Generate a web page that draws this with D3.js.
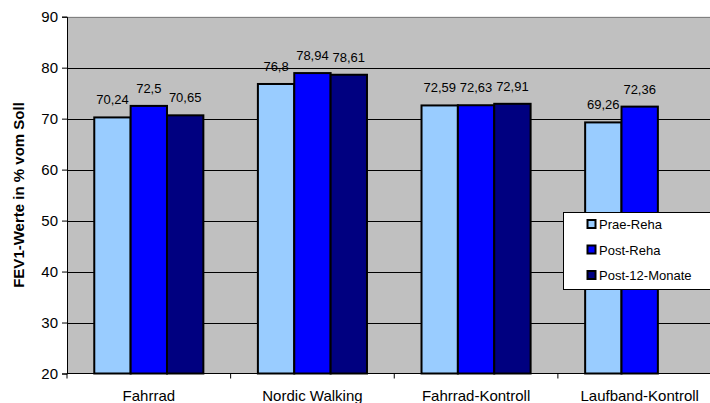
<!DOCTYPE html>
<html><head><meta charset="utf-8">
<script src="https://cdn.jsdelivr.net/npm/d3@7"></script>
<style>body{margin:0;background:#fff}svg{display:block;font-family:"Liberation Sans",Arial,sans-serif}</style>
</head><body><svg id="c" width="710" height="403"></svg>
<script>
const categories = ["Fahrrad","Nordic Walking","Fahrrad-Kontroll","Laufband-Kontroll"];
const seriesNames = ["Prae-Reha","Post-Reha","Post-12-Monate"];
const praeReha = [70.24, 76.8, 72.59, 69.26];
const postReha = [72.5, 78.94, 72.63, 72.36];
const post12 = [70.65, 78.61, 72.91, null];
const yTicks = [20,30,40,50,60,70,80,90];
const colors = ["#99CCFF","#0000FF","#000080"];
const seriesValues = [praeReha, postReha, post12];

const svg = d3.select("#c");
const x0 = 67, x1 = 721.5, yTop = 16.7, yBot = 373.5;
const x = d3.scaleBand().domain(categories).range([x0, x1]).paddingInner(0).paddingOuter(0);
const inner = d3.scaleBand().domain(seriesNames).range([0, x.bandwidth()]).paddingOuter(0.75).paddingInner(0);
const y = d3.scaleLinear().domain([20, 90]).range([yBot, yTop]);

svg.append("rect").attr("x", x0).attr("y", yTop).attr("width", x1 - x0).attr("height", yBot - yTop).attr("fill", "#C0C0C0");
svg.append("g").selectAll("line").data(yTicks.filter(d => d > 20)).join("line")
  .attr("x1", x0).attr("x2", x1).attr("y1", d => Math.round(y(d)) + 0.5).attr("y2", d => Math.round(y(d)) + 0.5)
  .attr("stroke", d => d === 90 ? "#808080" : "#000").attr("stroke-width", 1);

const data = [];
categories.forEach((c, i) => seriesNames.forEach((s, j) => {
  const v = seriesValues[j][i];
  if (v != null) data.push({c, s, v, j});
}));
const g = svg.append("g");
g.selectAll("rect").data(data).join("rect")
  .attr("x", d => x(d.c) + inner(d.s))
  .attr("y", d => y(d.v))
  .attr("width", inner.bandwidth())
  .attr("height", d => yBot - y(d.v))
  .attr("fill", d => colors[d.j]).attr("stroke", "#000").attr("stroke-width", 2);
g.selectAll("text").data(data).join("text")
  .attr("x", d => x(d.c) + inner(d.s) + inner.bandwidth() / 2)
  .attr("y", d => y(d.v) - 13)
  .attr("text-anchor", "middle").attr("font-size", 13).attr("fill", "#000")
  .text(d => String(d.v).replace(".", ","));

// Y axis
const ya = svg.append("g").attr("transform", `translate(${x0},0)`)
  .call(d3.axisLeft(y).tickValues(yTicks).tickSize(5).tickPadding(4).tickFormat(d => d));
ya.select(".domain").attr("stroke", "#000");
ya.selectAll(".tick line").attr("stroke", "#000");
ya.selectAll("text").attr("font-size", 15).attr("fill", "#000").attr("font-family", '"Liberation Sans",Arial,sans-serif');

// X axis
const xa = svg.append("g").attr("transform", `translate(0,${yBot})`)
  .call(d3.axisBottom(x).tickSize(0).tickPadding(0));
xa.select(".domain").remove();
xa.selectAll("text").attr("font-size", 15).attr("fill", "#000").attr("y", 27).attr("dy", 0)
  .attr("font-family", '"Liberation Sans",Arial,sans-serif');
svg.append("line").attr("x1", x0).attr("x2", x1).attr("y1", yBot).attr("y2", yBot).attr("stroke", "#000");
svg.append("g").selectAll("line").data(categories).join("line")
  .attr("x1", d => x(d)).attr("x2", d => x(d)).attr("y1", yBot).attr("y2", yBot + 5).attr("stroke", "#000");

// Y title
svg.append("text").attr("transform", "translate(24,195) rotate(-90)")
  .attr("text-anchor", "middle").attr("font-size", 15).attr("font-weight", "bold").text("FEV1-Werte in % vom Soll");

// Legend
const lg = svg.append("g");
lg.append("rect").attr("x", 563.5).attr("y", 212.5).attr("width", 160).attr("height", 77).attr("fill", "#fff").attr("stroke", "#000");
seriesNames.forEach((s, i) => {
  const yy = 224 + i * 25.5;
  lg.append("rect").attr("x", 587.5).attr("y", yy - 4).attr("width", 8).attr("height", 8)
    .attr("fill", colors[i]).attr("stroke", "#000").attr("stroke-width", 2);
  lg.append("text").attr("x", 599).attr("y", yy + 5).attr("font-size", 13).text(s);
});
</script></body></html>
